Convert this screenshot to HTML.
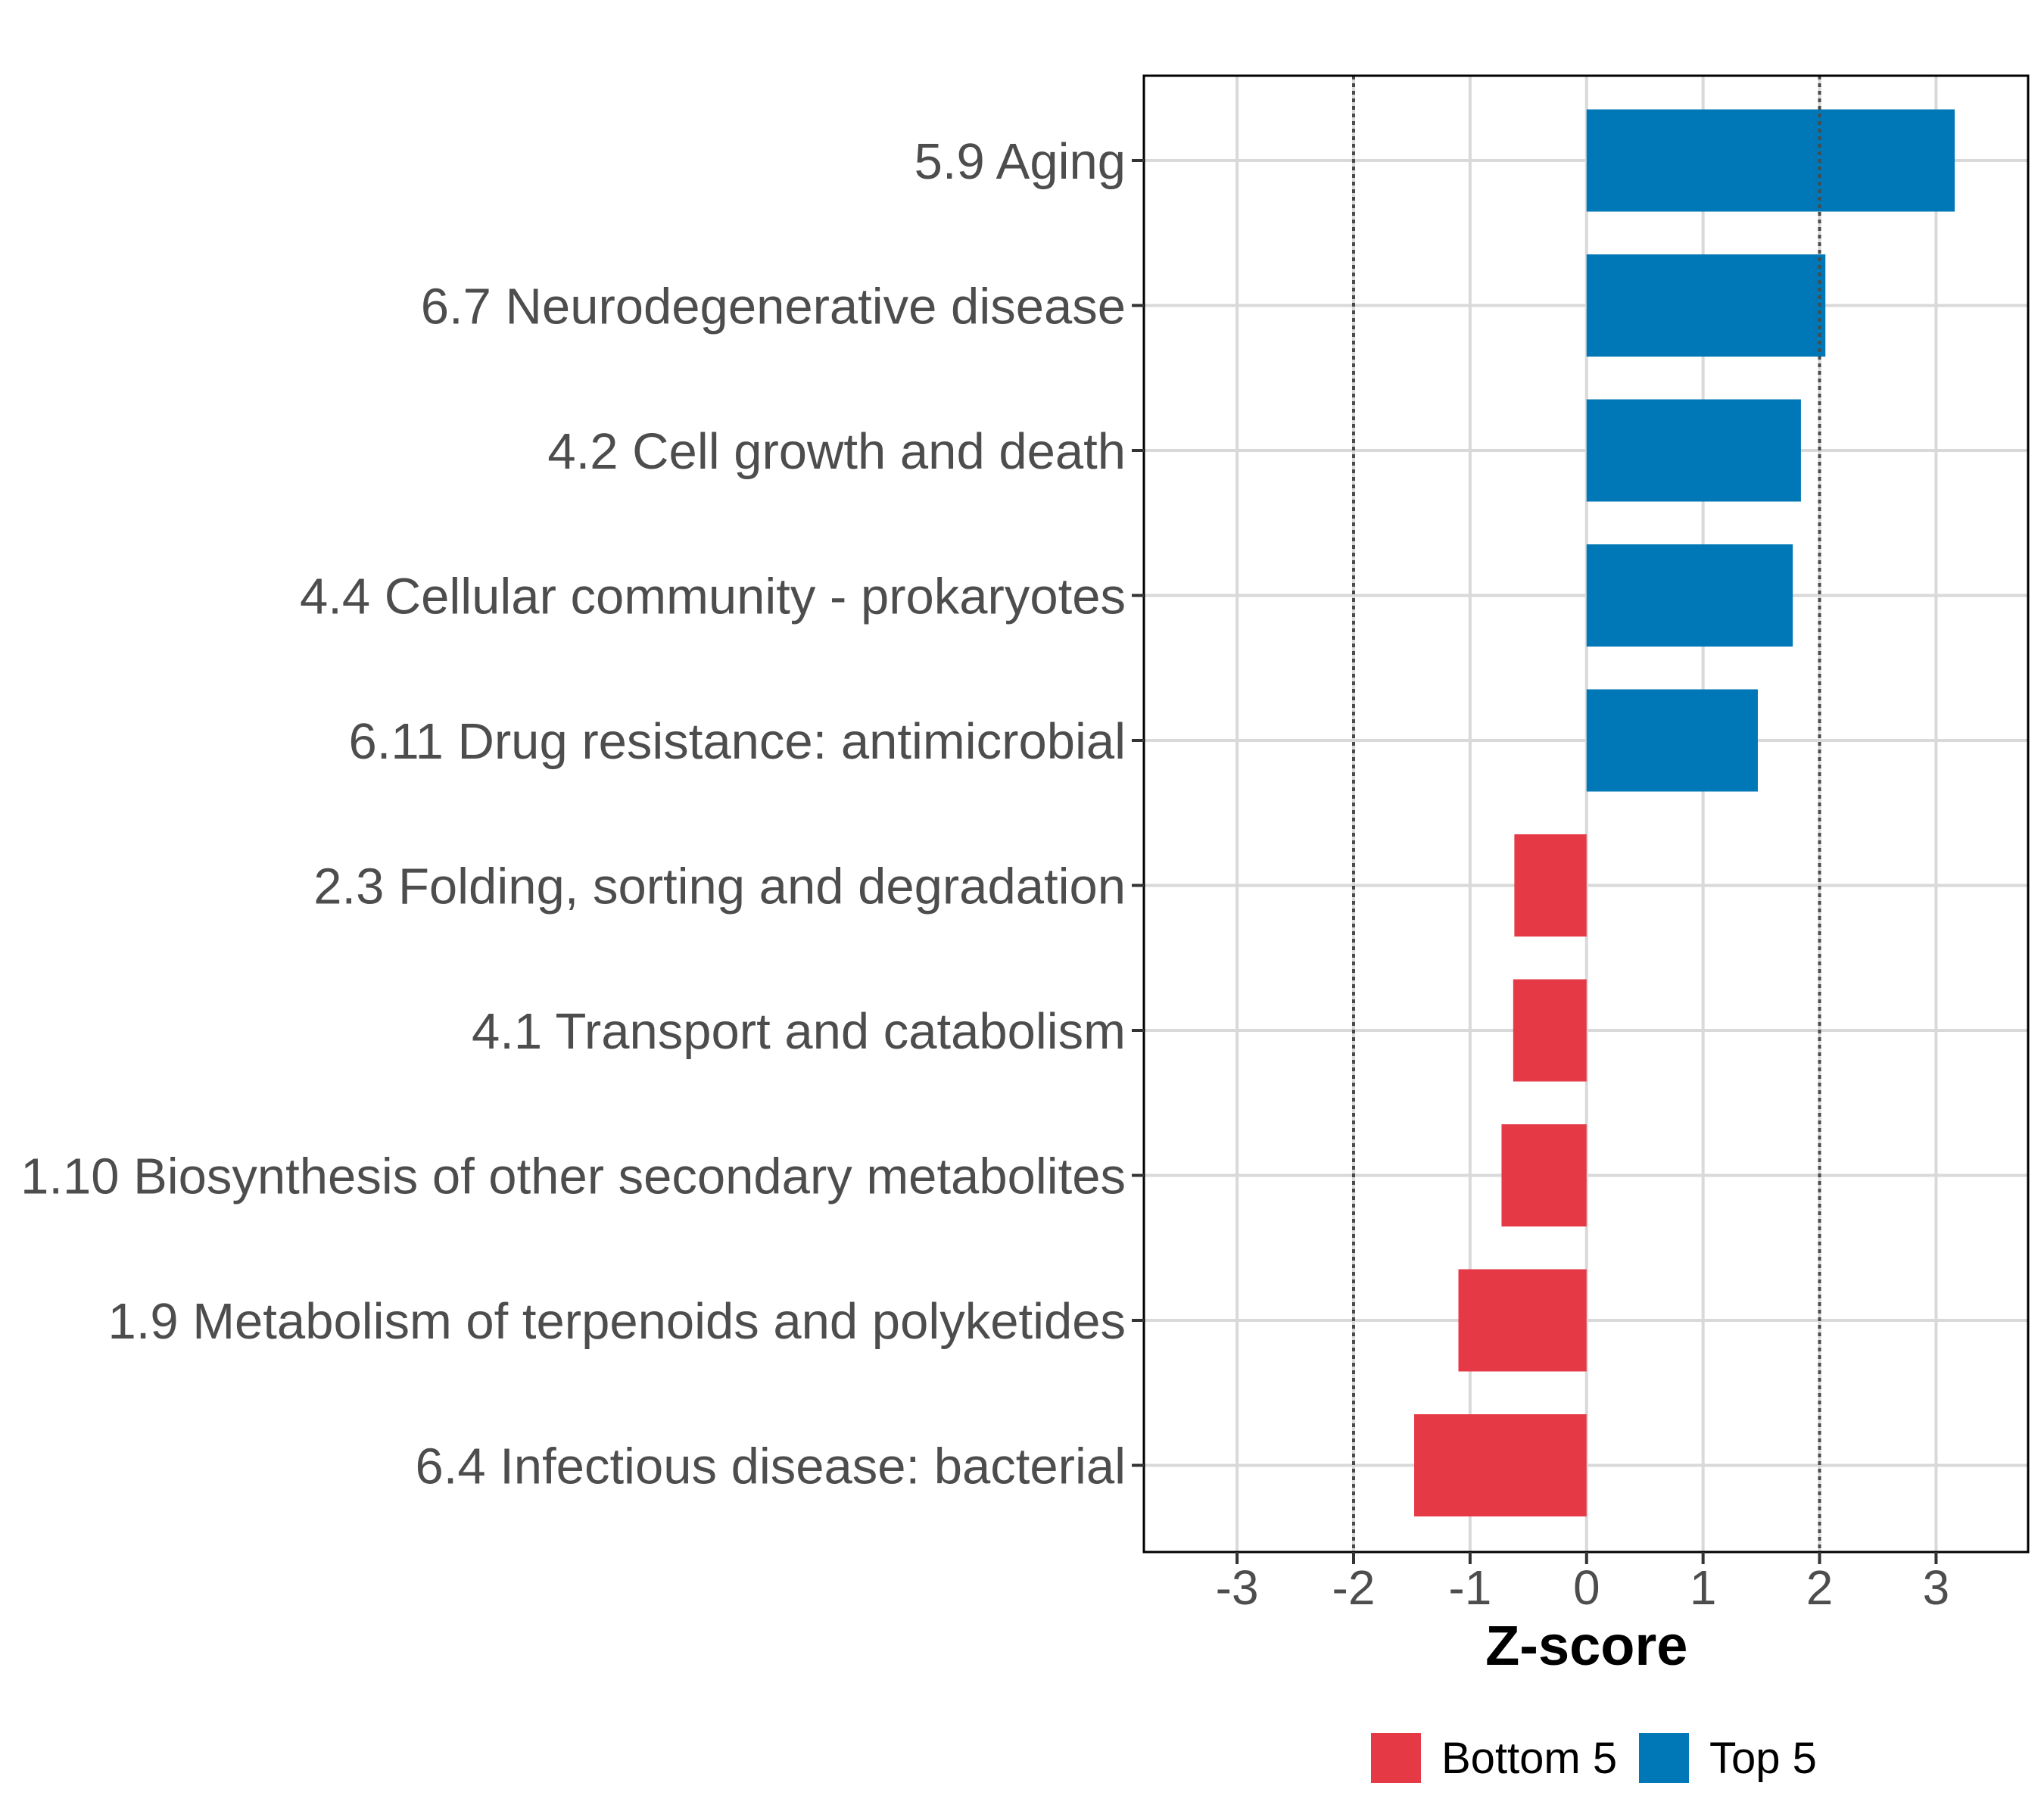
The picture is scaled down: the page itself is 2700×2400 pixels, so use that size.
<!DOCTYPE html>
<html><head><meta charset="utf-8"><style>
html,body{margin:0;padding:0;background:#fff;}
svg{display:block;font-family:"Liberation Sans",Arial,sans-serif;}
</style></head><body>
<svg id="chart" width="2700" height="2400" viewBox="0 0 2700 2400" xmlns="http://www.w3.org/2000/svg"></svg>
<script>
const categories = ["5.9 Aging","6.7 Neurodegenerative disease","4.2 Cell growth and death","4.4 Cellular community - prokaryotes","6.11 Drug resistance: antimicrobial","2.3 Folding, sorting and degradation","4.1 Transport and catabolism","1.10 Biosynthesis of other secondary metabolites","1.9 Metabolism of terpenoids and polyketides","6.4 Infectious disease: bacterial"];
const zscores = [3.16, 2.05, 1.84, 1.77, 1.47, -0.62, -0.63, -0.73, -1.10, -1.48];
const groups = ["Top 5","Top 5","Top 5","Top 5","Top 5","Bottom 5","Bottom 5","Bottom 5","Bottom 5","Bottom 5"];
const xTicks = [-3,-2,-1,0,1,2,3];
const xTickLabels = ["-3","-2","-1","0","1","2","3"];
const refLines = [-2, 2];

const svg = document.getElementById('chart');
const NS = 'http://www.w3.org/2000/svg';
const L = 1511, R = 2679, T = 100, B = 2050;
const xMin = -3.80, xMax = 3.79;
const X = v => L + (v - xMin) / (xMax - xMin) * (R - L);
const rowStep = 191.5, firstRow = 212;
const Y = i => firstRow + i * rowStep;
const barH = 135;
const colors = {"Top 5":"#0077b6","Bottom 5":"#e63946"};
function mk(tag, attrs){const e=document.createElementNS(NS,tag);for(const k in attrs)e.setAttribute(k,attrs[k]);svg.appendChild(e);return e;}

const bg = mk('rect',{x:L,y:T,width:R-L,height:B-T,fill:'#fff'});



xTicks.forEach(t=>{
  const g = mk('line',{x1:X(t),x2:X(t),y1:T,y2:B,stroke:'#d9d9d9','stroke-width':4});
  
  
});
categories.forEach((c,i)=>{
  const g = mk('line',{x1:L,x2:R,y1:Y(i),y2:Y(i),stroke:'#d9d9d9','stroke-width':4});
  
  
});

zscores.forEach((v,i)=>{
  const x0 = X(Math.min(0,v)), x1 = X(Math.max(0,v));
  const r = mk('rect',{x:x0,y:Y(i)-barH/2,width:x1-x0,height:barH,fill:colors[groups[i]]});
  
  
});

refLines.forEach(v=>{
  const l = mk('line',{x1:X(v),x2:X(v),y1:T,y2:B,stroke:'#4a4a4a','stroke-width':4,'stroke-dasharray':'5 5'});
  
  
});

const border = mk('rect',{x:L,y:T,width:R-L,height:B-T,fill:'none',stroke:'#000','stroke-width':3});



categories.forEach((c,i)=>{
  const tk = mk('line',{x1:L-16,x2:L,y1:Y(i),y2:Y(i),stroke:'#333','stroke-width':4});
  
  
  const t = mk('text',{x:1487,y:Y(i)+24,'text-anchor':'end','font-size':67,fill:'#4d4d4d'});
  t.textContent = c;
  
  
});

xTicks.forEach((v,i)=>{
  const tk = mk('line',{x1:X(v),x2:X(v),y1:B,y2:B+16,stroke:'#333','stroke-width':4});
  
  
  const t = mk('text',{x:X(v),y:2119,'text-anchor':'middle','font-size':64,fill:'#4d4d4d'});
  t.textContent = xTickLabels[i];
  
  
});
const xt = mk('text',{x:X(0),y:2199,'text-anchor':'middle','font-size':74,'font-weight':'bold',fill:'#000'});
xt.textContent = 'Z-score';



const items = [["Bottom 5",1811,1904],["Top 5",2165,2258]];
items.forEach(it=>{
  const s = mk('rect',{x:it[1],y:2289,width:66,height:66,fill:colors[it[0]]});
  
  
  const t = mk('text',{x:it[2],y:2342,'font-size':58,fill:'#000'});
  t.textContent = it[0];
  
  
});
</script>
</body></html>
